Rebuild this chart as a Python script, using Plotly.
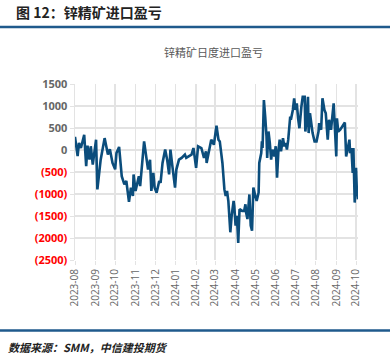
import plotly.graph_objects as go

dates = [
    "2023-08-01", "2023-08-05", "2023-08-07", "2023-08-10", "2023-08-15", "2023-08-18", "2023-08-20",
    "2023-08-23", "2023-08-25", "2023-08-28", "2023-09-02", "2023-09-04", "2023-09-09", "2023-09-15",
    "2023-09-20", "2023-09-23", "2023-09-27", "2023-10-01", "2023-10-03", "2023-10-07", "2023-10-11",
    "2023-10-15", "2023-10-18", "2023-10-22", "2023-10-25", "2023-10-28", "2023-10-29", "2023-11-01",
    "2023-11-06", "2023-11-08", "2023-11-14", "2023-11-17", "2023-11-20", "2023-11-23", "2023-11-25",
    "2023-11-28", "2023-11-30", "2023-12-03", "2023-12-07", "2023-12-09", "2023-12-12", "2023-12-16",
    "2023-12-19", "2023-12-22", "2023-12-24", "2023-12-27", "2023-12-31", "2024-01-02", "2024-01-06",
    "2024-01-10", "2024-01-15", "2024-01-17", "2024-01-25", "2024-01-28", "2024-02-01", "2024-02-04",
    "2024-02-09", "2024-02-13", "2024-02-16", "2024-02-17", "2024-02-24", "2024-02-28", "2024-03-03",
    "2024-03-06", "2024-03-08", "2024-03-12", "2024-03-15", "2024-03-17", "2024-03-19", "2024-03-21",
    "2024-03-24", "2024-03-26", "2024-03-29", "2024-03-30", "2024-04-01", "2024-04-03", "2024-04-05",
    "2024-04-07", "2024-04-11", "2024-04-14", "2024-04-16", "2024-04-17", "2024-04-19", "2024-04-22",
    "2024-04-24", "2024-04-26", "2024-04-28", "2024-05-01", "2024-05-03", "2024-05-06", "2024-05-07",
    "2024-05-10", "2024-05-11", "2024-05-12", "2024-05-14", "2024-05-16", "2024-05-18", "2024-05-19",
    "2024-05-21", "2024-05-23", "2024-05-25", "2024-05-27", "2024-05-30", "2024-06-01", "2024-06-03",
    "2024-06-05", "2024-06-07", "2024-06-09", "2024-06-12", "2024-06-14", "2024-06-16", "2024-06-18",
    "2024-06-20", "2024-06-23", "2024-06-24", "2024-06-27", "2024-06-29", "2024-07-01", "2024-07-03",
    "2024-07-05", "2024-07-07", "2024-07-10", "2024-07-12", "2024-07-15", "2024-07-16", "2024-07-18",
    "2024-07-20", "2024-07-21", "2024-07-23", "2024-07-25", "2024-07-27", "2024-07-30", "2024-08-02",
    "2024-08-05", "2024-08-06", "2024-08-09", "2024-08-11", "2024-08-14", "2024-08-16", "2024-08-19",
    "2024-08-21", "2024-08-24", "2024-08-26", "2024-08-28", "2024-08-30", "2024-09-01", "2024-09-02",
    "2024-09-04", "2024-09-07", "2024-09-11", "2024-09-14", "2024-09-16", "2024-09-18", "2024-09-21",
    "2024-09-22", "2024-09-24", "2024-09-26", "2024-09-27", "2024-09-29", "2024-10-01", "2024-10-02",
    "2024-10-04",
]

profit = [
    300, -140, 160, 45, 345, -370, 100,
    -220, 85, -330, 235, -895, -220, 270,
    -105, 20, -295, -440, -70, 70, -595,
    -780, -705, -1180, -855, -1045, -555, -930,
    -595, -820, 195, -145, -445, -220, -930,
    -520, -855, -970, -705, -745, -295, 10,
    -220, -555, 10, -370, -855, -445, -220,
    -180, -105, -180, -105, 45, -405, 85,
    45, -180, -30, -295, 235, 120, 550,
    235, 195, -295, -895, -1045, -930, -1160,
    -1870, -1495, -1160, -1270, -1720, -1495, -2110,
    -1345, -1385, -1385, -1235, -1420, -1570, -1010,
    -1720, -1835, -855, -1045, -1160, -970, -295,
    -70, 195, 45, 1135, 760, 310, -180,
    420, 160, -220, 10, -145, 85, -630,
    -30, 235, -30, 270, 85, 160, 10,
    235, 760, 685, 910, 1175, 910, 1060,
    720, 495, 985, 1210, 1210, 420, 720,
    1210, 385, 835, 610, 385, 195, 195,
    420, 610, 460, 1175, 910, 835, 235,
    685, 460, 760, 1060, 460, -145, 720,
    420, 460, 570, 625, -145, 45, 235,
    -70, 45, -520, 45, -1195, -405, -820,
    -1120,
]

y_ticks = [1500, 1000, 500, 0, -500, -1000, -1500, -2000, -2500]
y_tick_text = [
    "1500", "1000", "500", "0",
    "<span style='color:#ff0000'>(500)</span>",
    "<span style='color:#ff0000'>(1000)</span>",
    "<span style='color:#ff0000'>(1500)</span>",
    "<span style='color:#ff0000'>(2000)</span>",
    "<span style='color:#ff0000'>(2500)</span>",
]

main_title = "图 12：锌精矿进口盈亏"
chart_title = "锌精矿日度进口盈亏"
source_text = "数据来源：SMM，中信建投期货"

fig = go.Figure()
fig.add_trace(go.Scatter(
    x=dates, y=profit, mode="lines",
    line=dict(color="#0b4d7c", width=2.6),
    showlegend=False, hoverinfo="skip",
))

grid = "#e3e3e3"
fig.update_layout(
    width=390, height=359,
    margin=dict(l=75, r=32, t=84, b=99),
    paper_bgcolor="white", plot_bgcolor="white",
    font=dict(family="Noto Sans CJK SC, Noto Sans, sans-serif"),
    xaxis=dict(
        type="date",
        range=["2023-08-01", "2024-10-04"],
        dtick="M1", tick0="2023-08-01", tickformat="%Y-%m",
        tickangle=-90,
        tickfont=dict(size=10, color="#666666", family="Open Sans, sans-serif"),
        showgrid=True, gridcolor=grid, gridwidth=1.5,
        ticks="outside", ticklen=4, tickcolor=grid,
        showline=False, zeroline=False,
    ),
    yaxis=dict(
        range=[-2500, 1500],
        tickvals=y_ticks, ticktext=y_tick_text,
        tickfont=dict(size=11, color="#666666", family="Open Sans, sans-serif", weight="bold"),
        showgrid=True, gridcolor=grid, gridwidth=1.5,
        ticks="outside", ticklen=4, tickcolor=grid,
        showline=True, linecolor=grid, linewidth=1.5,
        zeroline=False,
    ),
    shapes=[
        dict(type="line", xref="paper", yref="paper",
             x0=-0.27, x1=1.12, y0=1.324, y1=1.324,
             line=dict(color="#1f5a8c", width=2.5)),
        dict(type="line", xref="paper", yref="paper",
             x0=-0.27, x1=1.12, y0=-0.40, y1=-0.40,
             line=dict(color="#1f5a8c", width=2.5)),
    ],
    annotations=[
        dict(text=main_title, xref="paper", yref="paper",
             x=-0.215, y=1.41, xanchor="left", yanchor="middle", showarrow=False,
             font=dict(size=14, color="#222222", family="Noto Sans CJK SC", weight="bold")),
        dict(text=chart_title, xref="paper", yref="paper",
             x=0.49, y=1.18, xanchor="center", yanchor="middle", showarrow=False,
             font=dict(size=11, color="#595959", family="Noto Sans CJK SC")),
        dict(text="<i>" + source_text + "</i>", xref="paper", yref="paper",
             x=-0.245, y=-0.495, xanchor="left", yanchor="middle", showarrow=False,
             font=dict(size=11, color="#222222", family="Noto Sans CJK SC", weight="bold")),
    ],
)

fig.write_html(
    "out.html",
    config={"displayModeBar": False, "staticPlot": True},
    post_script="document.body.style.margin='0';document.body.style.overflow='hidden';",
)
